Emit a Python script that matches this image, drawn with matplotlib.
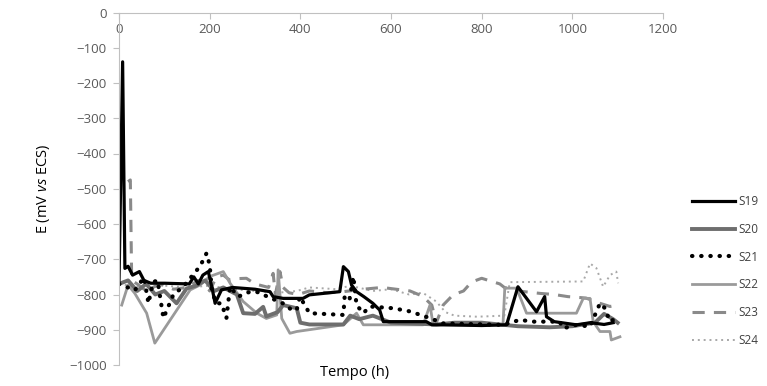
import matplotlib
matplotlib.use("Agg")
import matplotlib.pyplot as plt
from matplotlib.lines import Line2D

plt.rcParams['font.family'] = ['Open Sans', 'DejaVu Sans']
plt.rcParams['mathtext.fontset'] = 'custom'
plt.rcParams['mathtext.rm'] = 'Open Sans'
plt.rcParams['mathtext.it'] = 'Open Sans:italic'

# Potential (mV vs ECS) vs time (h) for six samples
t19 = [0, 8, 13, 20, 30, 45, 55, 70, 100, 155, 165, 175, 185, 197, 205, 212, 226, 250, 300, 333, 340,
       362, 406, 420, 487, 495, 506, 513, 524, 540, 560, 575, 583, 678, 690, 715, 800, 855, 880, 921,
       939, 943, 960, 1009, 1040, 1070, 1090]
e19 = [-770, -140, -726, -720, -745, -735, -760, -768, -768, -770, -750, -770, -745, -735, -780, -825,
       -787, -780, -785, -792, -806, -811, -811, -801, -792, -721, -735, -773, -792, -806, -825, -844,
       -877, -877, -886, -886, -888, -886, -778, -849, -806, -863, -877, -886, -880, -885, -880]

t20 = [0, 20, 40, 60, 80, 100, 127, 149, 170, 190, 210, 230, 260, 274, 300, 318, 325, 350, 362, 392,
       400, 420, 495, 510, 530, 560, 600, 700, 740, 800, 880, 950, 1000, 1050, 1070, 1090, 1100]
e20 = [-770, -760, -790, -770, -800, -790, -825, -783, -775, -760, -790, -780, -800, -853, -855, -835,
       -862, -850, -830, -839, -880, -885, -885, -860, -870, -860, -880, -885, -880, -880, -890, -893,
       -890, -880, -855, -870, -880]

t21 = [0, 35, 55, 65, 75, 85, 98, 120, 140, 157, 178, 186, 193, 200, 205, 215, 226, 237, 245, 263, 289,
       303, 370, 380, 392, 399, 420, 495, 498, 509, 517, 524, 539, 553, 605, 642, 686, 715, 848, 884,
       913, 972, 980, 1009, 1039, 1061, 1072, 1083, 1090]
e21 = [-770, -788, -752, -825, -765, -760, -867, -800, -780, -754, -721, -702, -683, -716, -792, -825,
       -825, -867, -778, -806, -792, -792, -830, -844, -844, -806, -853, -858, -801, -811, -749, -830,
       -853, -834, -839, -848, -867, -882, -886, -872, -877, -877, -896, -886, -891, -825, -839, -877,
       -872]

t22 = [6, 20, 35, 61, 79, 157, 179, 200, 230, 245, 274, 304, 325, 348, 351, 359, 377, 392, 495, 524,
       539, 671, 686, 693, 847, 851, 877, 899, 1009, 1024, 1039, 1046, 1061, 1083, 1086, 1105]
e22 = [-830, -773, -797, -853, -938, -787, -773, -749, -735, -768, -820, -853, -868, -858, -730, -868,
       -910, -905, -886, -853, -886, -886, -830, -886, -886, -782, -782, -853, -853, -811, -811, -877,
       -905, -905, -929, -920]

t23 = [20, 25, 28, 40, 60, 90, 120, 150, 175, 190, 200, 215, 230, 245, 260, 281, 300, 330, 340, 345,
       355, 362, 375, 395, 420, 460, 495, 539, 580, 642, 670, 690, 700, 715, 737, 760, 774, 781, 800,
       815, 840, 850, 880, 930, 960, 990, 1030, 1061, 1083, 1100]
e23 = [-480, -475, -760, -770, -790, -770, -785, -780, -760, -770, -790, -750, -745, -760, -755, -754,
       -770, -780, -740, -800, -735, -780, -795, -800, -790, -795, -792, -785, -780, -790, -805, -830,
       -880, -830, -801, -790, -770, -763, -754, -760, -770, -780, -790, -797, -800, -806, -810, -825,
       -834, -830]

t24 = [0, 50, 100, 150, 200, 250, 300, 350, 392, 420, 480, 510, 560, 600, 640, 670, 700, 720, 740, 790,
       850, 862, 1024, 1039, 1053, 1068, 1083, 1097, 1101]
e24 = [-770, -780, -775, -780, -775, -785, -790, -795, -790, -780, -785, -775, -790, -785, -800, -795,
       -820, -850, -860, -863, -860, -765, -763, -712, -725, -778, -745, -735, -768]

labels = ["S19", "S20", "S21", "S22", "S23", "S24"]

fig = plt.figure(figsize=(7.67, 3.86), dpi=100)
ax = fig.add_axes([119 / 767, 1 - 365 / 386, (663 - 119) / 767, (365 - 12.5) / 386])

styles = [
    dict(color="black", lw=2.3),
    dict(color="#6e6e6e", lw=2.8),
    dict(color="black", lw=3.0, linestyle=(0, (0.1, 2.1)), dash_capstyle="round"),
    dict(color="#9a9a9a", lw=2.0),
    dict(color="#8a8a8a", lw=2.2, linestyle=(0, (4, 3))),
    dict(color="#a8a8a8", lw=1.4, linestyle=(0, (1, 2))),
]
series = [(t19, e19), (t20, e20), (t21, e21), (t22, e22), (t23, e23), (t24, e24)]
# light curves first, black ones on top
order = [5, 4, 3, 1, 2, 0]
for i in order:
    t, e = series[i]
    ax.plot(t, e, **styles[i])

ax.set_xlim(0, 1200)
ax.set_ylim(-1000, 0)
ax.set_xticks(range(0, 1201, 200))
ax.set_yticks(range(-1000, 1, 100))

# x axis sits at E = 0, i.e. along the top of the plot
ax.spines['bottom'].set_position(('data', 0))
ax.spines['top'].set_visible(False)
ax.spines['right'].set_visible(False)
for s in ('bottom', 'left'):
    ax.spines[s].set_color("#c0c0c0")
ax.tick_params(colors="#c0c0c0", labelcolor="#595959", labelsize=9.5, length=4)
ax.tick_params(axis='y', pad=5)

ax.set_ylabel("E (mV $\\it{vs}$ ECS)", fontsize=10.5, labelpad=12)
fig.text(355 / 767, 1 - 373 / 386, "Tempo (h)", fontsize=10.5, ha="center", va="center")

handles = [Line2D([], [], **styles[i]) for i in range(6)]
fig.legend(handles, labels, loc="upper left", bbox_to_anchor=(692 / 767, 1 - 195 / 386),
           frameon=False, fontsize=8.5, handlelength=3.6, handletextpad=0.3, labelspacing=1.25,
           borderpad=0, borderaxespad=0, labelcolor="#404040")

fig.savefig("out.png", dpi=100)
